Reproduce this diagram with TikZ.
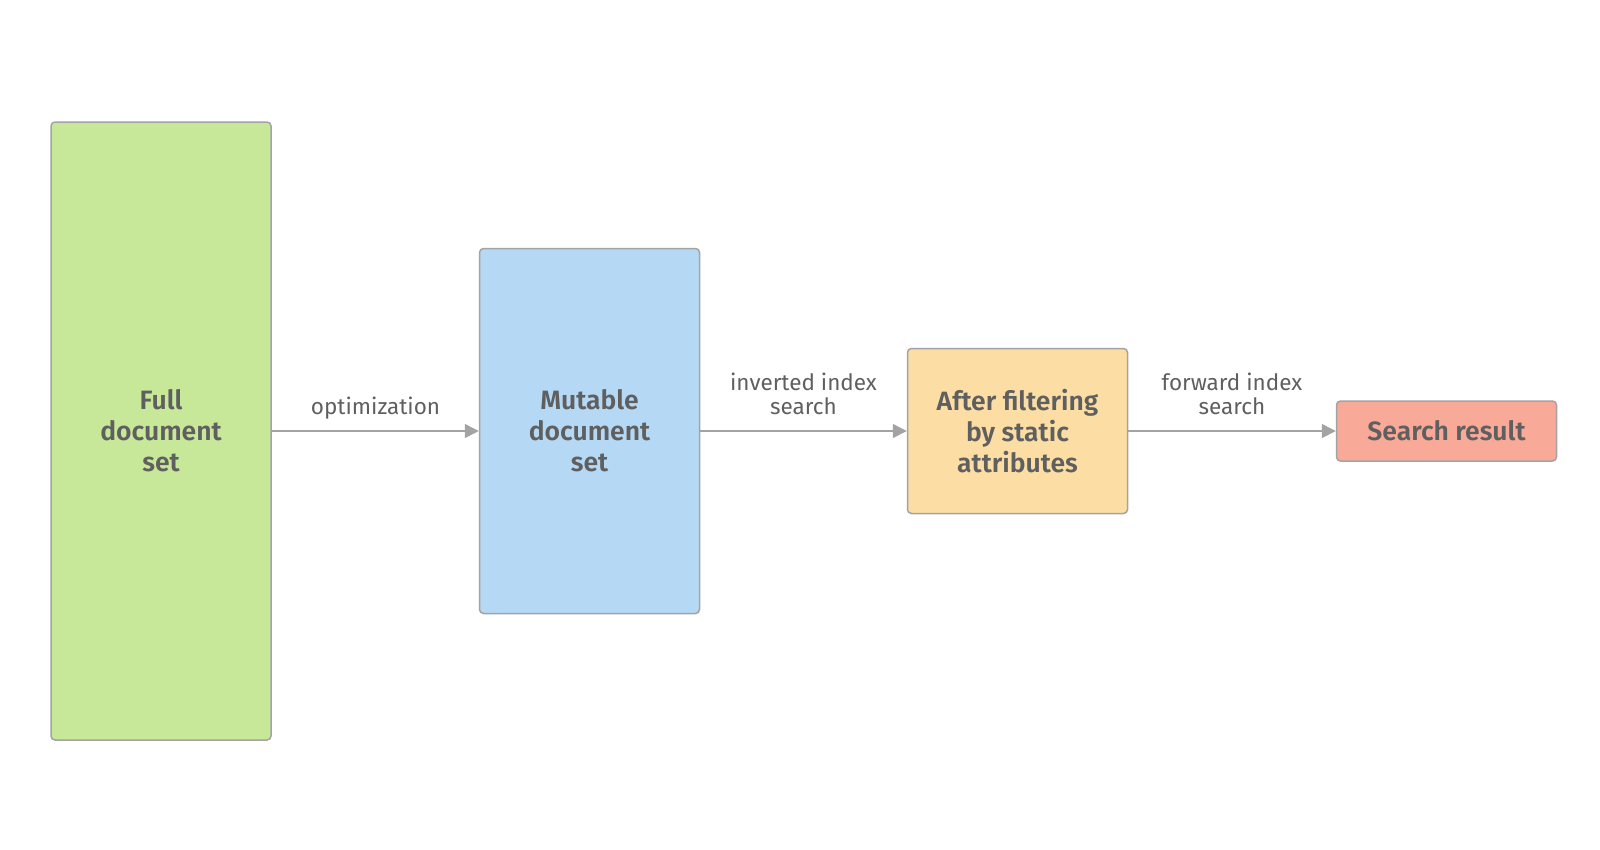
\documentclass[tikz,border=0pt]{standalone}
\usepackage{fontspec}
\setmainfont{Fira Sans}[BoldFont={Fira Sans SemiBold}]
\usetikzlibrary{arrows.meta}
\definecolor{txt}{HTML}{5F5F5F}
\definecolor{bord}{HTML}{A3A3A3}
\definecolor{cgreen}{HTML}{C7E799}
\definecolor{cblue}{HTML}{B5D8F5}
\definecolor{corange}{HTML}{FCDEA4}
\definecolor{cred}{HTML}{F9A998}
\tikzset{
  box/.style={draw=bord, line width=1.5pt, rounded corners=4pt, text=txt, align=center,
    minimum width=220pt, inner sep=0pt, font=\fontsize{26.5}{31}\selectfont\bfseries},
  conn/.style={draw=bord, line width=1.5pt, -{Triangle[length=14pt,width=14pt]}},
  lbl/.style={text=txt, align=center, font=\fontsize{22.5}{24.5}\selectfont, inner sep=0pt}
}
\begin{document}
\begin{tikzpicture}[x=1pt,y=-1pt]
\useasboundingbox (0,0) rectangle (1600,849);
\node[box, fill=cgreen, minimum height=618pt] (full) at (161,431) {Full\\document\\set};
\node[box, fill=cblue, minimum height=365pt] (mut) at (589.5,431) {Mutable\\document\\set};
\node[box, fill=corange, minimum height=165pt] (filt) at (1017.5,431) {After filtering\\by static\\attributes};
\node[box, fill=cred, minimum height=60pt] (res) at (1446.5,431) {Search result};
\draw[conn] (full) -- (mut);
\draw[conn] (mut) -- (filt);
\draw[conn] (filt) -- (res);
\node[lbl] (l1) at (375.5,408) {optimization};
\node[lbl] (l2) at (803.5,394) {inverted index\\search};
\node[lbl] (l3) at (1232,394) {forward index\\search};
\end{tikzpicture}
\end{document}
